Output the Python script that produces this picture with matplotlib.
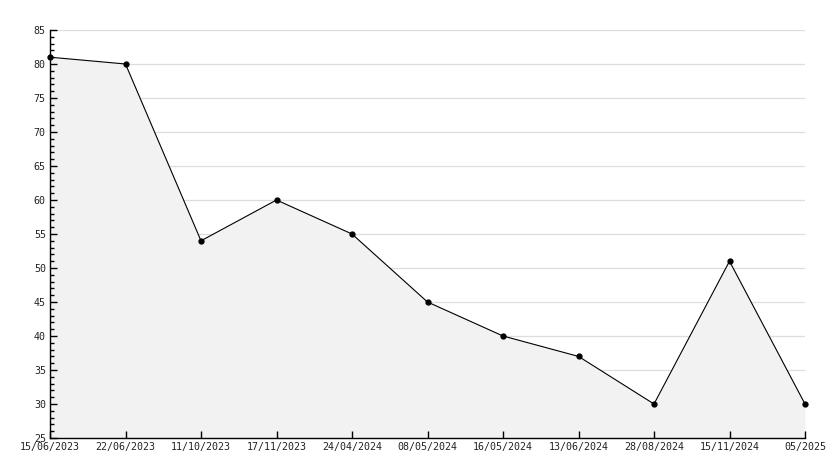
import matplotlib.pyplot as plt
from matplotlib.ticker import MultipleLocator

dates = ["15/06/2023", "22/06/2023", "11/10/2023", "17/11/2023", "24/04/2024",
         "08/05/2024", "16/05/2024", "13/06/2024", "28/08/2024", "15/11/2024", "05/2025"]
values = [81, 80, 54, 60, 55, 45, 40, 37, 30, 51, 30]
y_ticks = list(range(25, 90, 5))

plt.rcParams['font.family'] = ['DejaVu Sans Mono']
plt.rcParams['font.size'] = 7.2

fig = plt.figure(figsize=(8.34, 4.68), dpi=100)
ax = fig.add_axes([50 / 834, 1 - 438 / 468, 755 / 834, 408 / 468])

x = list(range(len(values)))
# grid behind the filled area, ticks on top
for yv in y_ticks[1:]:
    ax.axhline(yv, color="#dddddd", linewidth=0.9, zorder=0.5)
ax.fill_between(x, values, 25, color="#f2f2f2", zorder=1, linewidth=0)
ax.plot(x, values, color="black", linewidth=0.8, marker="o", markersize=3.5,
        markerfacecolor="black", zorder=3, clip_on=False)

ax.set_xlim(0, len(values) - 1)
ax.set_ylim(25, 85)
ax.set_xticks(x)
ax.set_xticklabels(dates)
ax.set_yticks(y_ticks)
ax.yaxis.set_minor_locator(MultipleLocator(1))
ax.set_axisbelow(False)

for s in ["top", "right"]:
    ax.spines[s].set_visible(False)
for s in ["left", "bottom"]:
    ax.spines[s].set_linewidth(1)
    ax.spines[s].set_zorder(4)

ax.tick_params(axis="both", which="major", direction="in", length=5, width=1,
               colors="black", labelcolor="#222222", pad=3)
ax.tick_params(axis="y", which="minor", direction="in", length=3, width=1)

fig.savefig("out.png", dpi=100)
